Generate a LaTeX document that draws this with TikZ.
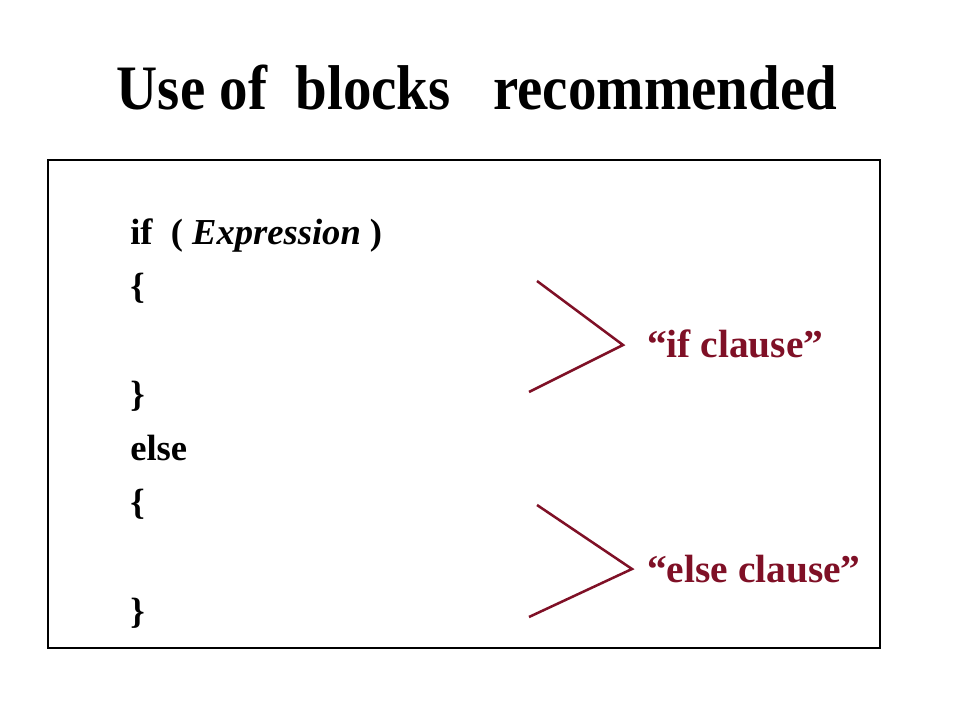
\documentclass[tikz,border=0pt]{standalone}
\usepackage{fontspec}
\setmainfont{Liberation Serif}
\newfontfamily\titlefont[FakeStretch=0.9]{Liberation Serif}
\usetikzlibrary{calc}
\definecolor{clausered}{HTML}{7F1026}
\tikzset{
	code/.style={anchor=base west, inner sep=0pt, font=\fontsize{26}{30}\selectfont\bfseries},
	clause/.style={anchor=base west, inner sep=0pt, text=clausered, font=\fontsize{28}{34}\selectfont\bfseries},
	brace/.style={draw=clausered, line width=1.8pt}
}

\begin{document}
\begin{tikzpicture}[x=0.025cm, y=-0.025cm]
	\useasboundingbox (0,0) rectangle (960,720);
	\node[anchor=base, inner sep=0pt, font=\titlefont\fontsize{45}{52}\selectfont\bfseries] (title) at (477,110) {Use of\ \ blocks\ \ \ recommended};
	\draw[line width=0.8pt] (48,160) rectangle (880,648);
	\node[code] (if) at (130,245) {if\ \ ( \textit{Expression} )};
	\node[code] (ob1) at (130,299) {\{};
	\node[code] (cb1) at (130,407) {\}};
	\node[code] (else) at (130,461) {else};
	\node[code] (ob2) at (130,515) {\{};
	\node[code] (cb2) at (130,623) {\}};
	\node[clause] (ifc) at (647,358) {``if clause''};
	\node[clause] (elsec) at (647,582) {``else clause''};
	\coordinate (a1) at (537,281);
	\coordinate (t1) at (623,345);
	\coordinate (b1) at (529,392);
	\coordinate (a2) at (537,505);
	\coordinate (t2) at (632,569);
	\coordinate (b2) at (529,617);
	\draw[brace] (a1) -- (t1) -- (b1);
	\draw[brace] (a2) -- (t2) -- (b2);
\end{tikzpicture}
\end{document}
